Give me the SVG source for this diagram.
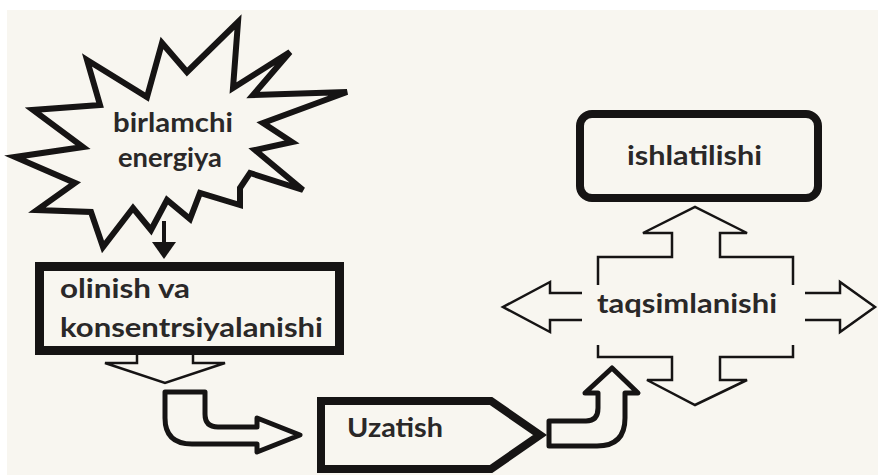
<svg xmlns="http://www.w3.org/2000/svg" width="878" height="475" viewBox="0 0 878 475">
  <style>
    .bg { fill: #f8f6f0; }
    .thick { fill: none; stroke: #161414; stroke-linejoin: miter; }
    .hollow { fill: none; stroke: #161414; stroke-width: 2.5; stroke-linejoin: miter; }
    .bent { fill: #f8f6f0; stroke: #161414; stroke-width: 5; stroke-linejoin: round; }
    .lbl { font-family: Lato, "Open Sans", "Liberation Sans", sans-serif; font-weight: bold; font-size: 27px; fill: #2a2828; }
  </style>
  <rect x="0" y="0" width="878" height="475" fill="#ffffff"/>
  <rect class="bg" x="7" y="10" width="871" height="465"/>

  <g id="birlamchi-energiya">
    <path class="thick" stroke-width="6" d="M87,60 L147,97 L162,43 L187,72 L238,22 L233,88 L290,52 L253,95 L347,92 L263,123 L292,142 L255,150 L303,190 L250,173 L240,188 L240,205 L200,193 L190,219 L167,200 L151,230 L133,208 L103,247 L91,212 L37,210 L75,183 L15,157 L83,147 L33,110 L100,105 Z"/>
    <text class="lbl" x="113" y="132" textLength="120" lengthAdjust="spacingAndGlyphs">birlamchi</text>
    <text class="lbl" x="118" y="167" textLength="104" lengthAdjust="spacingAndGlyphs">energiya</text>
  </g>

  <g id="olinish">
    <rect class="thick" stroke-width="9" x="39.5" y="266.5" width="300" height="84"/>
    <text class="lbl" x="60" y="298" textLength="130" lengthAdjust="spacingAndGlyphs">olinish va</text>
    <text class="lbl" x="60" y="337" textLength="263" lengthAdjust="spacingAndGlyphs">konsentrsiyalanishi</text>
  </g>

  <g id="uzatish">
    <path class="thick" stroke-width="8" d="M321,401 L491,401 L540,435 L491,469 L321,469 Z"/>
    <text class="lbl" x="347" y="437" textLength="96" lengthAdjust="spacingAndGlyphs">Uzatish</text>
  </g>

  <g id="ishlatilishi">
    <rect class="thick" stroke-width="8" x="580" y="114" width="238" height="84" rx="12"/>
    <text class="lbl" x="627" y="165" textLength="135" lengthAdjust="spacingAndGlyphs">ishlatilishi</text>
  </g>

  <g id="taqsimlanishi">
    <text class="lbl" x="597" y="313" textLength="180" lengthAdjust="spacingAndGlyphs">taqsimlanishi</text>
  </g>

  <g id="connectors">
    <line x1="164" y1="221" x2="164" y2="245" stroke="#161414" stroke-width="4"/>
    <polygon points="152,242 176,242 164,259" fill="#161414"/>
    <path class="hollow" d="M137,355 L137,363 L105,363 L165,383 L225,363 L193,363 L193,355"/>
    <path class="bent" d="M165,392 L205,392 L205,414 Q205,427 218,427 L257,427 L257,418 L300,435 L257,452 L257,444 L192,444 Q165,444 165,418 Z"/>
    <path class="bent" d="M549,421 L586,421 Q598,421 598,408 L598,393 L585,393 L612,368 L638,393 L625,393 L625,418 Q625,446 597,446 L549,446 Z"/>
    <path class="hollow" d="M598,285 L598,257 L672,257 L672,233 L643,233 L695,207 L747,233 L720,233 L720,257 L793,257 L793,285"/>
    <path class="hollow" d="M582,293 L550,293 L550,282 L503,307 L550,332 L550,320 L582,320"/>
    <path class="hollow" d="M805,293 L840,293 L840,282 L875,307 L840,332 L840,320 L805,320"/>
    <path class="hollow" d="M598,345 L598,357 L672,357 L672,380 L647,380 L695,405 L747,380 L720,380 L720,357 L793,357 L793,345"/>
  </g>
</svg>
